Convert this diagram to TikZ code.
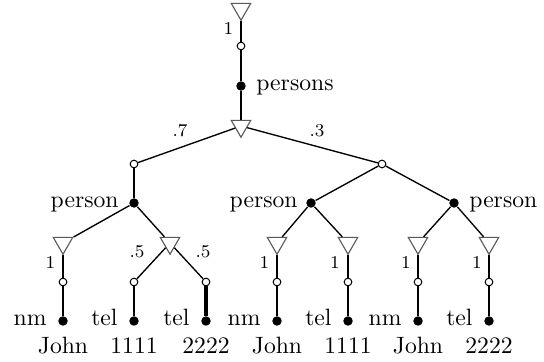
\documentclass[tikz,border=0pt]{standalone}
\usetikzlibrary{shapes.geometric}
\begin{document}
\begin{tikzpicture}[x=0.4444pt,y=-0.4444pt,
 tri/.style={regular polygon, regular polygon sides=3, shape border rotate=180, draw=black!65, line width=0.5pt, inner sep=0pt, minimum size=10pt},
 oc/.style={circle, draw, fill=white, line width=0.45pt, inner sep=0pt, minimum size=3.4pt},
 fc/.style={circle, fill=black, inner sep=0pt, minimum size=4.2pt},
 thk/.style={line width=1.3pt},
 thkk/.style={line width=1.8pt},
 thn/.style={line width=0.6pt},
 prob/.style={font=\fontsize{8}{10}\selectfont, inner sep=0pt},
 lab/.style={font=\fontsize{10.5}{12}\selectfont, inner sep=0pt}]
\useasboundingbox (0,0) rectangle (544,362);
% top
\node[tri] (t0) at (241,9) {};
\node[oc] (c0) at (241,46) {};
\node[fc] (d0) at (241,86) {};
\node[tri] (t1) at (241,126) {};
\node[oc] (cL) at (134,164) {};
\node[oc] (cR) at (382,164) {};
\node[fc] (pA) at (134,203) {};
\node[fc] (pB) at (311,203) {};
\node[fc] (pC) at (454,203) {};
% leaf triangles
\node[tri] (tA1) at (63,243) {};
\node[tri] (tA2) at (170,243) {};
\node[tri] (tB1) at (277,243) {};
\node[tri] (tB2) at (348,243) {};
\node[tri] (tC1) at (418,243) {};
\node[tri] (tC2) at (489,243) {};
% leaf circles and dots
\foreach \i/\x in {1/63,2/134,3/206,4/277,5/348,6/418,7/489}{
  \node[oc] (l\i) at (\x,282) {};
  \node[fc] (e\i) at (\x,321) {};
}
% edges
\draw[thk] (t0) -- (c0);
\draw[thk] (c0) -- (d0);
\draw[thk] (d0) -- (t1);
\draw[thn] (t1) -- (cL);
\draw[thn] (t1) -- (cR);
\draw[thk] (cL) -- (pA);
\draw[thn] (cR) -- (pB);
\draw[thn] (cR) -- (pC);
\draw[thn] (pA) -- (tA1);
\draw[thn] (pA) -- (tA2);
\draw[thn] (pB) -- (tB1);
\draw[thn] (pB) -- (tB2);
\draw[thn] (pC) -- (tC1);
\draw[thn] (pC) -- (tC2);
\draw[thk] (tA1) -- (l1);
\draw[thn] (tA2) -- (l2);
\draw[thn] (tA2) -- (l3);
\draw[thk] (tB1) -- (l4);
\draw[thk] (tB2) -- (l5);
\draw[thk] (tC1) -- (l6);
\draw[thk] (tC2) -- (l7);
\draw[thk] (l1) -- (e1);
\draw[thk] (l2) -- (e2);
\draw[thkk] (l3) -- (e3);
\draw[thk] (l4) -- (e4);
\draw[thk] (l5) -- (e5);
\draw[thk] (l6) -- (e6);
\draw[thk] (l7) -- (e7);
% probability labels
\node[prob] (p0) at (228.5,29) {1};
\node[prob] (p7) at (180,131) {.7};
\node[prob] (p3) at (317,131) {.3};
\node[prob] (pa1) at (50.5,263) {1};
\node[prob] (pa2) at (137,252) {.5};
\node[prob] (pa3) at (203,252) {.5};
\node[prob] (pb1) at (264.5,263) {1};
\node[prob] (pb2) at (335,263) {1};
\node[prob] (pc1) at (406,263) {1};
\node[prob] (pc2) at (477,263) {1};
% element labels
\node[lab, anchor=mid west] (n0) at (256,86) {persons};
\node[lab, anchor=mid east] (nA) at (119,203) {person};
\node[lab, anchor=mid east] (nB) at (298,203) {person};
\node[lab, anchor=mid west] (nC) at (469,203) {person};
\foreach \i/\x/\t/\v in {1/63/nm/John,2/134/tel/1111,3/206/tel/2222,4/277/nm/John,5/348/tel/1111,6/418/nm/John,7/489/tel/2222}{
  \node[lab, anchor=mid east] (k\i) at (\x-16,321) {\t};
  \node[lab, anchor=base] (v\i) at (\x,353) {\v};
}
\end{tikzpicture}
\end{document}
